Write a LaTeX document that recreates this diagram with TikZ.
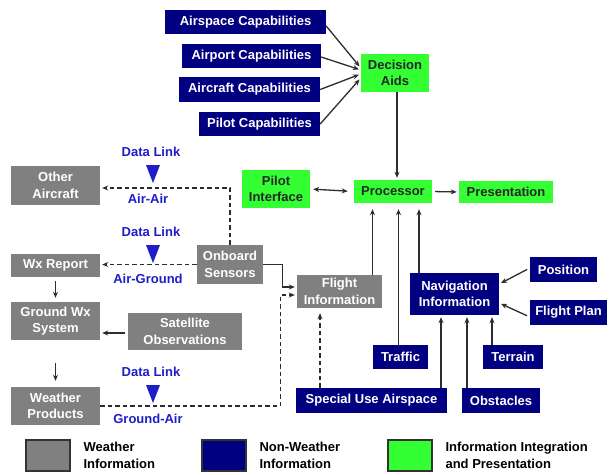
\documentclass[tikz,border=0pt]{standalone}
\usepackage{fontspec}
\setmainfont{Liberation Sans}
\usetikzlibrary{arrows.meta,positioning}
\definecolor{wxgray}{RGB}{128,128,128}
\definecolor{navyblue}{RGB}{0,0,128}
\definecolor{litegreen}{RGB}{51,255,51}
\definecolor{linkblue}{RGB}{30,30,200}
\definecolor{linegray}{RGB}{45,45,45}
\tikzset{
  basebox/.style={inner sep=0pt, align=center, font=\fontsize{13}{16.5}\selectfont\bfseries},
  wxbox/.style={basebox, fill=wxgray, text=white},
  navbox/.style={basebox, fill=navyblue, text=white},
  intbox/.style={basebox, fill=litegreen, text=black!85},
  arr/.style={-{Stealth[length=6pt,width=5pt]}, line width=1.3pt, draw=linegray, shorten >=2pt},
  darr/.style={arr, dash pattern=on 4.5pt off 3pt},
  linklabel/.style={text=linkblue, font=\fontsize{13}{16}\selectfont\bfseries},
  legbox/.style={draw=black!80, line width=2pt, minimum width=44pt, minimum height=31pt},
  legtext/.style={align=left, font=\fontsize{13}{16.5}\selectfont\bfseries}
}
\begin{document}
\begin{tikzpicture}[x=1pt,y=-1pt]
    \useasboundingbox[fill=white] (0,0) rectangle (609,474);

    % Dibuja las capacidades y la ayuda a la decision
    \node[navbox, minimum width=161pt, minimum height=24pt] (airspace) at (245.5,22) {Airspace Capabilities};
    \node[navbox, minimum width=139pt, minimum height=24pt] (airport) at (251.5,56) {Airport Capabilities};
    \node[navbox, minimum width=141pt, minimum height=25pt] (aircraft) at (249.5,89.5) {Aircraft Capabilities};
    \node[navbox, minimum width=121pt, minimum height=24pt] (pilotcap) at (259.5,124) {Pilot Capabilities};
    \node[intbox, minimum width=68pt, minimum height=38pt] (decision) at (395,73) {Decision\\Aids};

    % Dibuja el procesador y la interfaz
    \node[intbox, minimum width=78pt, minimum height=23pt] (processor) at (393,191.5) {Processor};
    \node[intbox, minimum width=94pt, minimum height=22pt] (presentation) at (506,192) {Presentation};
    \node[intbox, minimum width=68pt, minimum height=38pt] (pilotint) at (276,189) {Pilot\\Interface};

    % Dibuja la informacion meteorologica
    \node[wxbox, minimum width=89pt, minimum height=39pt] (otheraircraft) at (55.5,185.5) {Other\\Aircraft};
    \node[wxbox, minimum width=66pt, minimum height=39pt] (onboard) at (230,264.5) {Onboard\\Sensors};
    \node[wxbox, minimum width=89pt, minimum height=23pt] (wxreport) at (55.5,265.5) {Wx Report};
    \node[wxbox, minimum width=89pt, minimum height=38pt] (groundwx) at (55.5,321) {Ground Wx\\System};
    \node[wxbox, minimum width=114pt, minimum height=37pt] (satellite) at (185,331.5) {Satellite\\Observations};
    \node[wxbox, minimum width=89pt, minimum height=38pt] (wxproducts) at (55.5,406) {Weather\\Products};
    \node[wxbox, minimum width=85pt, minimum height=33pt] (flightinfo) at (339.5,291.5) {Flight\\Information};

    % Dibuja la informacion de navegacion
    \node[navbox, minimum width=89pt, minimum height=42pt] (navinfo) at (454.5,294) {Navigation\\Information};
    \node[navbox, minimum width=67pt, minimum height=25pt] (position) at (563.5,269.5) {Position};
    \node[navbox, minimum width=77pt, minimum height=25pt] (flightplan) at (568.5,312.5) {Flight Plan};
    \node[navbox, minimum width=55pt, minimum height=24pt] (traffic) at (400.5,357) {Traffic};
    \node[navbox, minimum width=60pt, minimum height=24pt] (terrain) at (513,357) {Terrain};
    \node[navbox, minimum width=151pt, minimum height=25pt] (special) at (371.5,400.5) {Special Use Airspace};
    \node[navbox, minimum width=78pt, minimum height=25pt] (obstacles) at (501,400.5) {Obstacles};

    % Dibuja las flechas
    \draw[arr] ([yshift=-4pt]airspace.east) -- ([yshift=5pt]decision.west);
    \draw[arr] ([yshift=-1pt]airport.east) -- ([yshift=3pt]decision.west);
    \draw[arr] (aircraft.east) -- ([yshift=-1pt]decision.west);
    \draw[arr] (pilotcap.east) -- ([yshift=-5pt]decision.west);
    \draw[arr] ([xshift=2pt]decision.south) -- ([xshift=4pt]processor.north);
    \draw[arr, {Stealth[length=6pt,width=5pt]}-{Stealth[length=6pt,width=5pt]}, shorten <=3pt, shorten >=6pt] (pilotint.east) -- (processor.west);
    \draw[arr, shorten <=3pt] (processor.east) -- (presentation.west);
    \draw[arr, shorten >=6pt] ([xshift=33pt]flightinfo.north) -- ([xshift=33pt]flightinfo.north |- processor.south);
    \draw[arr, shorten >=6pt] ([xshift=-2pt]traffic.north) -- ([xshift=-2pt]traffic.north |- processor.south);
    \draw[arr, shorten >=6pt] ([xshift=-35.5pt]navinfo.north) -- ([xshift=-35.5pt]navinfo.north |- processor.south);
    \draw[arr, shorten <=3pt] ([yshift=1.5pt]position.west) -- ([yshift=10pt]navinfo.east);
    \draw[arr, shorten <=3pt] ([yshift=-4.5pt]flightplan.west) -- ([yshift=-9pt]navinfo.east);
    \draw[arr] ([xshift=-21pt]terrain.north) -- ([xshift=-21pt]terrain.north |- navinfo.south);
    \draw[arr] ([xshift=69.5pt]special.north) -- ([xshift=69.5pt]special.north |- navinfo.south);
    \draw[arr] ([xshift=-34pt]obstacles.north) -- ([xshift=-34pt]obstacles.north |- navinfo.south);
    \draw[darr, shorten >=5pt] ([xshift=-51.5pt]special.north) -- ([xshift=-51.5pt]special.north |- flightinfo.south);
    \draw[darr] (onboard.north) |- ([yshift=-2.5pt]otheraircraft.east);
    \draw[darr] (onboard.west) -- (onboard.west -| wxreport.east);
    \draw[arr] (onboard.east) -- ++(19,0) |- ([yshift=4.5pt]flightinfo.west);
    \draw[darr] (wxproducts.east) -- ++(180,0) |- ([yshift=-3.5pt]flightinfo.west);
    \draw[arr, shorten <=4pt, shorten >=4pt] (wxreport.south) -- (groundwx.north);
    \draw[arr, shorten <=3pt] ([yshift=-1.5pt]satellite.west) -- ([yshift=-1.5pt]satellite.west -| groundwx.east);
    \draw[arr, shorten <=23pt, shorten >=6pt] (groundwx.south) -- (wxproducts.north);

    % Dibuja los enlaces de datos
    \foreach \y/\lab [count=\i] in {152/Air-Air, 232/Air-Ground, 372/Ground-Air} {
        \node[linklabel] (link\i) at (151,\y) {Data Link};
        \fill[linkblue] (146,\y+13) -- (160,\y+13) -- (153,\y+31) -- cycle;
        \node[linklabel] (mode\i) at (148,\y+47) {\lab};
    }

    % Dibuja la leyenda
    \node[legbox, fill=wxgray] (legwx) at (48,455.5) {};
    \node[legtext, right=9pt of legwx] (legwxtext) {Weather\\Information};
    \node[legbox, fill=navyblue] (legnav) at (224,455.5) {};
    \node[legtext, right=9pt of legnav] (legnavtext) {Non-Weather\\Information};
    \node[legbox, fill=litegreen] (legint) at (410,455.5) {};
    \node[legtext, right=9pt of legint] (leginttext) {Information Integration\\and Presentation};
\end{tikzpicture}
\end{document}
